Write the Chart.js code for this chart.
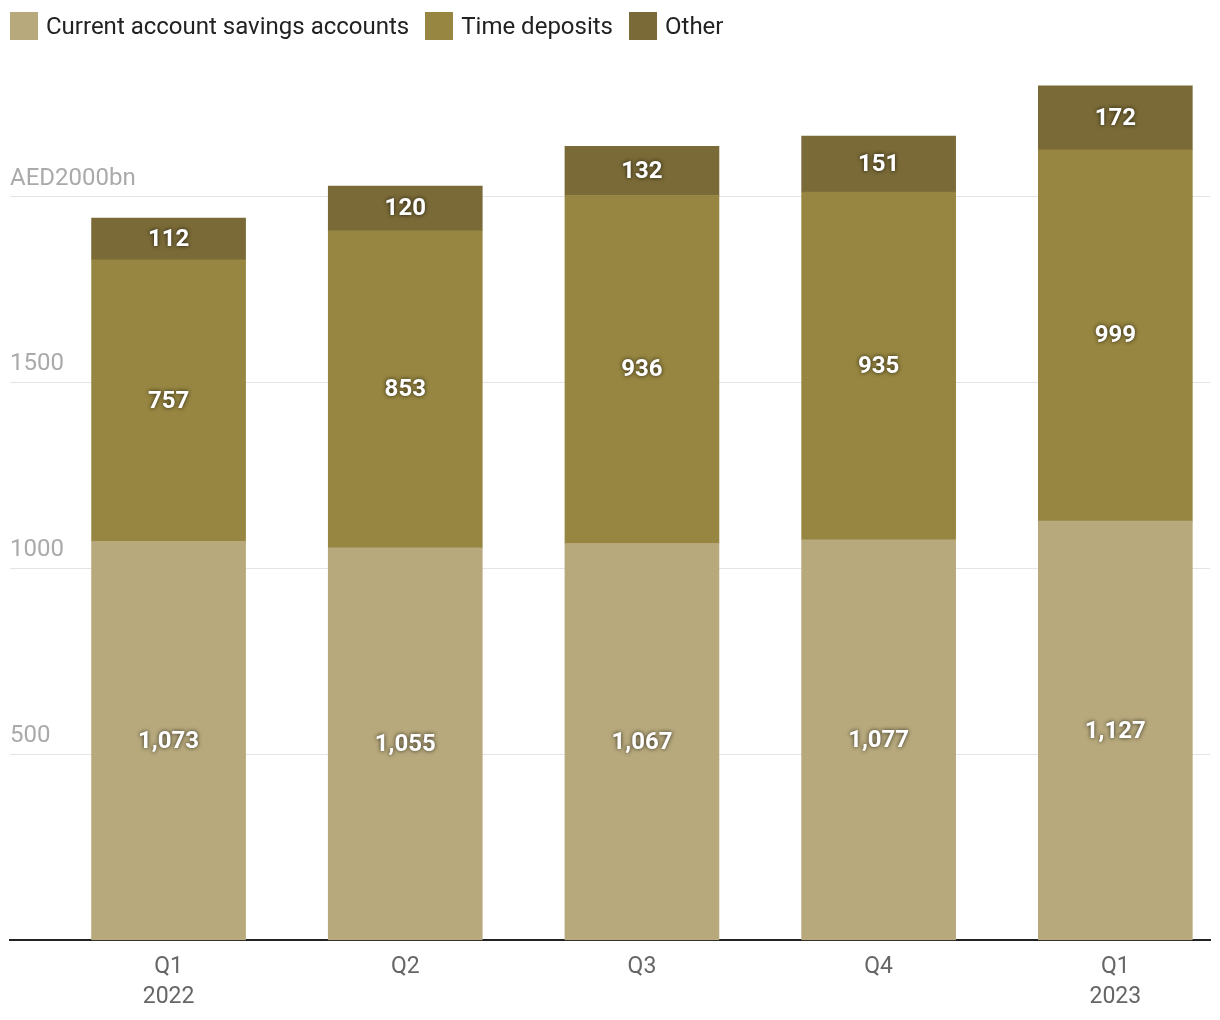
<!DOCTYPE html>
<html>
<head>
<meta charset="utf-8">
<script src="https://cdn.jsdelivr.net/npm/chart.js@4.4.0/dist/chart.umd.min.js"></script>
<style>
  html, body { margin: 0; padding: 0; background: #fff; overflow: hidden; }
  #wrap { position: relative; width: 1220px; height: 1020px; overflow: hidden; }
  #legend { position: absolute; left: 10px; top: 12px; display: flex; align-items: center; font-family: Roboto, sans-serif; font-size: 24px; color: #222; }
  .item { display: flex; align-items: center; margin-right: 16px; }
  .box { width: 28px; height: 28px; margin-right: 8px; }
</style>
</head>
<body>
<div id="wrap">
  <canvas id="c" width="1220" height="1024"></canvas>
  <div id="legend"></div>
</div>
<script>
const quarters = [["Q1","2022"],["Q2"],["Q3"],["Q4"],["Q1","2023"]];
const casa = [1073, 1055, 1067, 1077, 1127];
const timeDeposits = [757, 853, 936, 935, 999];
const other = [112, 120, 132, 151, 172];
const seriesNames = ["Current account savings accounts", "Time deposits", "Other"];
const colors = ["#b7a97c", "#978641", "#7a6a37"];
const yTicks = [500, 1000, 1500, 2000];

const legend = document.getElementById('legend');
seriesNames.forEach((n, i) => {
  const it = document.createElement('div'); it.className = 'item';
  const b = document.createElement('div'); b.className = 'box'; b.style.background = colors[i];
  const t = document.createElement('span'); t.textContent = n;
  it.appendChild(b); it.appendChild(t); legend.appendChild(it);
});

function pts(arr) { return arr.map((v, i) => ({ x: i, y: v })); }

const labelPlugin = {
  id: 'segLabels',
  afterDatasetsDraw(chart) {
    const ctx = chart.ctx;
    ctx.save();
    ctx.font = 'bold 24px Roboto, sans-serif';
    ctx.textAlign = 'center';
    ctx.textBaseline = 'middle';
    ctx.fillStyle = '#fff';
    ctx.shadowColor = 'rgba(0,0,0,0.75)';
    ctx.shadowBlur = 4;
    chart.data.datasets.forEach((ds, di) => {
      const meta = chart.getDatasetMeta(di);
      meta.data.forEach((el, i) => {
        const v = ds.data[i].y;
        const yc = (el.y + el.base) / 2;
        ctx.fillText(v.toLocaleString('en-US'), el.x, yc + 1);
      });
    });
    ctx.restore();
  }
};

new Chart(document.getElementById('c'), {
  type: 'bar',
  data: {
    datasets: [
      { label: seriesNames[0], data: pts(casa), backgroundColor: colors[0] },
      { label: seriesNames[1], data: pts(timeDeposits), backgroundColor: colors[1] },
      { label: seriesNames[2], data: pts(other), backgroundColor: colors[2] }
    ]
  },
  options: {
    responsive: false,
    animation: false,
    devicePixelRatio: 1,
    layout: { padding: { left: 10, right: 10, top: 10, bottom: 0 } },
    datasets: { bar: { barThickness: 154, borderWidth: 0 } },
    plugins: { legend: { display: false }, tooltip: { enabled: false } },
    scales: {
      x: {
        type: 'linear',
        stacked: true,
        offset: false,
        min: -0.67,
        max: 4.4,
        afterBuildTicks: (s) => { s.ticks = quarters.map((q, i) => ({ value: i })); },
        ticks: {
          callback: (v) => quarters[v],
          font: { family: 'Roboto', size: 23, lineHeight: 1.3 },
          color: '#666',
          padding: 12,
          maxRotation: 0,
          autoSkip: false
        },
        grid: { display: false, drawTicks: false },
        border: { display: true, color: '#222', width: 2 }
      },
      y: {
        stacked: true,
        min: 0,
        max: 2490,
        afterBuildTicks: (s) => { s.ticks = yTicks.map(v => ({ value: v })); },
        ticks: {
          mirror: true,
          padding: 0,
          labelOffset: -18,
          callback: (v) => v === 2000 ? 'AED2000bn' : String(v),
          font: { family: 'Roboto', size: 24 },
          color: '#aaa'
        },
        grid: { color: '#e4e4e4', lineWidth: 1, drawTicks: false },
        border: { display: false }
      }
    }
  },
  plugins: [labelPlugin]
});
</script>
</body>
</html>
